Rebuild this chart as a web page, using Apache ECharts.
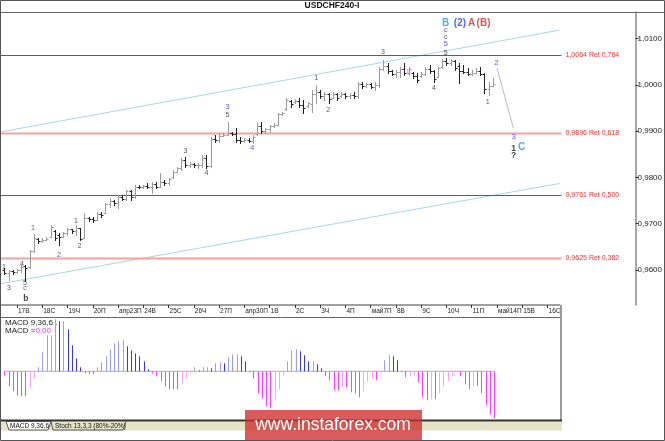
<!DOCTYPE html>
<html><head><meta charset="utf-8">
<script src="https://cdn.jsdelivr.net/npm/echarts@6/dist/echarts.min.js"></script>
<style>html,body{margin:0;padding:0;background:#fff}#c{width:665px;height:441px}</style>
</head><body><div id="c"></div>
<script>
// ---------------- data ----------------
const firstBarIndex = -3;   // bar index of first visible H4 bar (0 = first bar of "17В")
const barsPerDay = 6;
const dayLabels = ['17В','18С','19Ч','20П','апр23П','24В','25С','26Ч','27П','апр30П','1В','2С','3Ч','4П','май7П','8В','9С','10Ч','11П','май14П','15В','16С'];
const opens = [
 0.9600,0.9593,0.9597,0.9595,0.9599,0.9609,0.9606,0.9641,0.9668,0.9662,0.9665,0.9672,0.9685,
 0.9676,0.9672,0.9680,0.9688,0.9684,0.9690,0.9670,0.9712,0.9710,0.9708,
 0.9722,0.9724,0.9742,0.9750,0.9745,0.9757,0.9754,0.9770,0.9758,0.9780,
 0.9779,0.9781,0.9780,0.9786,0.9780,0.9790,0.9788,0.9800,0.9812,0.9820,
 0.9838,0.9826,0.9828,0.9826,0.9827,0.9842,0.9824,0.9882,0.9880,0.9890,
 0.9892,0.9896,0.9894,0.9880,0.9878,0.9880,0.9878,0.9893,0.9912,0.9900,
 0.9904,0.9910,0.9914,0.9936,0.9947,0.9966,0.9962,0.9966,0.9956,0.9954,
 0.9958,0.9980,0.9985,0.9975,0.9980,0.9972,0.9980,0.9975,0.9980,0.9975,
 0.9978,0.9976,1.0002,0.9998,1.0001,0.9996,1.0000,1.0034,1.0040,1.0030,
 1.0024,1.0028,1.0034,1.0026,1.0026,1.0018,1.0018,1.0024,1.0034,1.0030,
 1.0017,1.0038,1.0052,1.0048,1.0052,1.0040,1.0030,1.0028,1.0024,1.0026,
 1.0030,1.0024,0.9990,0.9998];
const highs = [
 0.9604,0.9600,0.9600,0.9602,0.9611,0.9611,0.9643,0.9677,0.9669,0.9669,0.9671,0.9697,0.9686,
 0.9680,0.9682,0.9691,0.9689,0.9697,0.9691,0.9723,0.9714,0.9714,0.9725,
 0.9725,0.9745,0.9755,0.9751,0.9762,0.9762,0.9773,0.9773,0.9784,0.9784,
 0.9784,0.9788,0.9790,0.9790,0.9810,0.9794,0.9799,0.9816,0.9823,0.9842,
 0.9844,0.9833,0.9831,0.9831,0.9848,0.9848,0.9887,0.9892,0.9896,0.9896,
 0.9920,0.9898,0.9907,0.9887,0.9885,0.9885,0.9892,0.9917,0.9920,0.9907,
 0.9913,0.9917,0.9939,0.9941,0.9972,0.9967,0.9970,0.9972,0.9967,0.9963,
 0.9989,1.0000,0.9989,0.9984,0.9982,0.9984,0.9982,0.9984,0.9982,0.9982,
 0.9984,1.0006,1.0006,1.0004,1.0004,1.0006,1.0038,1.0054,1.0047,1.0032,
 1.0032,1.0038,1.0047,1.0038,1.0028,1.0026,1.0028,1.0038,1.0043,1.0032,
 1.0038,1.0056,1.0058,1.0056,1.0054,1.0047,1.0043,1.0036,1.0032,1.0036,
 1.0038,1.0026,1.0006,1.0015];
const lows = [
 0.9591,0.9578,0.9591,0.9594,0.9596,0.9576,0.9605,0.9639,0.9658,0.9661,0.9664,0.9671,0.9665,
 0.9654,0.9671,0.9676,0.9680,0.9676,0.9665,0.9669,0.9706,0.9704,0.9707,
 0.9714,0.9723,0.9736,0.9740,0.9734,0.9751,0.9751,0.9751,0.9756,0.9777,
 0.9777,0.9777,0.9766,0.9777,0.9779,0.9784,0.9784,0.9799,0.9811,0.9816,
 0.9823,0.9823,0.9823,0.9820,0.9823,0.9820,0.9823,0.9876,0.9876,0.9889,
 0.9891,0.9892,0.9876,0.9874,0.9876,0.9876,0.9874,0.9892,0.9896,0.9896,
 0.9898,0.9909,0.9913,0.9935,0.9946,0.9952,0.9961,0.9952,0.9939,0.9952,
 0.9941,0.9961,0.9972,0.9967,0.9961,0.9971,0.9967,0.9974,0.9972,0.9972,
 0.9972,0.9972,0.9993,0.9995,0.9993,0.9989,0.9995,1.0032,1.0026,1.0021,
 1.0017,1.0017,1.0021,1.0021,1.0015,1.0006,1.0017,1.0021,1.0026,1.0006,
 1.0016,1.0037,1.0043,1.0043,1.0032,1.0004,1.0026,1.0021,1.0021,1.0025,
 1.0021,0.9982,0.9978,0.9997];
const closes = [
 0.9594,0.9597,0.9595,0.9599,0.9606,0.9605,0.9641,0.9670,0.9662,0.9665,0.9667,0.9692,0.9670,
 0.9672,0.9680,0.9688,0.9684,0.9690,0.9668,0.9712,0.9710,0.9708,0.9722,
 0.9718,0.9742,0.9750,0.9744,0.9757,0.9754,0.9770,0.9758,0.9780,0.9779,
 0.9781,0.9780,0.9786,0.9780,0.9790,0.9788,0.9796,0.9812,0.9820,0.9838,
 0.9826,0.9828,0.9826,0.9827,0.9842,0.9824,0.9882,0.9880,0.9890,0.9892,
 0.9896,0.9894,0.9880,0.9878,0.9880,0.9878,0.9888,0.9912,0.9900,0.9904,
 0.9910,0.9914,0.9936,0.9938,0.9968,0.9958,0.9966,0.9956,0.9950,0.9960,
 0.9980,0.9985,0.9975,0.9980,0.9970,0.9980,0.9972,0.9980,0.9975,0.9978,
 0.9976,1.0002,0.9998,1.0001,0.9996,1.0000,1.0034,1.0040,1.0030,1.0024,
 1.0028,1.0034,1.0026,1.0034,1.0018,1.0010,1.0024,1.0034,1.0030,1.0012,
 1.0036,1.0052,1.0048,1.0052,1.0036,1.0030,1.0028,1.0024,1.0026,1.0030,
 1.0024,0.9990,0.9998,1.0002];
const macdValues = [
 -0.00020,-0.00075,-0.00100,-0.00120,-0.00125,-0.00125,-0.00085,-0.00035,0.00020,0.00095,0.00180,0.00180,0.00260,
 0.00250,0.00250,0.00210,0.00130,0.00065,0.00020,-0.00010,-0.00015,-0.00015,0.00020,
 0.00045,0.00075,0.00110,0.00140,0.00150,0.00155,0.00125,0.00105,0.00090,0.00075,
 0.00050,0.00010,-0.00010,-0.00025,-0.00050,-0.00075,-0.00090,-0.00090,-0.00090,-0.00065,
 -0.00035,-0.00010,0.00020,0.00005,0.00020,0.00020,0.00015,0.00040,0.00045,0.00040,
 0.00070,0.00085,0.00085,0.00075,0.00050,-0.00005,-0.00035,-0.00110,-0.00135,-0.00175,
 -0.00185,-0.00145,-0.00090,-0.00020,0.00050,0.00105,0.00110,0.00100,0.00080,0.00050,
 0.00050,0.00035,0.00015,-0.00025,-0.00045,-0.00095,-0.00095,-0.00080,-0.00080,-0.00105,
 -0.00110,-0.00130,-0.00100,-0.00050,-0.00035,-0.00045,-0.00010,0.00055,0.00080,0.00075,
 0.00055,-0.00005,-0.00030,-0.00025,-0.00020,-0.00055,-0.00130,-0.00145,-0.00140,-0.00140,
 -0.00110,-0.00075,-0.00050,-0.00020,-0.00005,-0.00025,-0.00065,-0.00090,-0.00075,-0.00075,
 -0.00110,-0.00170,-0.00215,-0.00235];
const priceTicks = [0.96, 0.97, 0.98, 0.99, 1.00, 1.01];
const fibLevels = [1.0064, 0.9896, 0.9761, 0.9625];
const fibRatios = ['0,764', '0,618', '0,500', '0,382'];
const currentPrice = 1.0002;
const upperChannel = [[-4.03, 0.9898], [128.85, 1.0118]];
const lowerChannel = [[-4.03, 0.9570], [128.85, 0.9787]];
const projection = [[114.0, 1.0036], [117.9, 0.9906]];
const waveText  = ['1','3','4','5','c','b','1','2','1','2','3','4','3','5','4','1','2','3','1','4','5','5','c','c','B','(2)','A','(B)','2','1','3','1','C','?'];
const waveIdx   = [-3.1,-1.9,1.2,1.9,1.9,2.1,3.8,9.95,14.0,14.9,40.0,45.0,50.0,50.0,55.9,71.1,73.9,86.9,92.8,99.0,101.8,101.8,101.8,101.8,101.8,105.2,108.0,110.8,113.9,111.8,117.95,117.95,119.85,117.95];
const wavePrice = [0.9607,0.9561,0.9613,0.9572,0.9561,0.9539,0.9691,0.9632,0.9706,0.9652,0.9857,0.9809,0.9952,0.9935,0.9864,1.0015,0.9946,1.0071,1.0028,0.9993,1.0068,1.0088,1.0103,1.0118,1.0132,1.0132,1.0132,1.0132,1.0047,0.9963,0.9887,0.9863,0.9866,0.9846];
const waveKind  = ['k','k','k','k','b','kb','b','b','k','k','k','k','b','k','b','k','k','k','m','k','k','b','k','b','lb','bb','r','r','b','b','b','kb','lb','kb'];

// ---------------- chart ----------------
const FONT = 'Liberation Sans, Arial, sans-serif';
const xMin = -4.0265, xMax = 128.85;
const yMin = 0.95244, yMax = 1.01572;
const lastIndex = firstBarIndex + opens.length - 1;
const fmtPrice = v => v.toFixed(4).replace('.', ',');
const ohlc = opens.map((o, k) => [firstBarIndex + k, o, highs[k], lows[k], closes[k]]);
const macdData = macdValues.map((v, k) => [firstBarIndex + k, v, k > 0 ? macdValues[k - 1] : v]);
const dayTickValues = dayLabels.map((_, k) => k * barsPerDay);
const kindStyle = {
  k:  {color:'#2a2a2a', fontSize:7},
  kb: {color:'#111111', fontSize:8.5, fontWeight:'bold'},
  b:  {color:'#3333ff', fontSize:8},
  bb: {color:'#2a3cff', fontSize:10, fontWeight:'bold'},
  lb: {color:'#1f9ee0', fontSize:10, fontWeight:'bold'},
  r:  {color:'#d42a2a', fontSize:10, fontWeight:'bold'},
  m:  {color:'#ff40ff', fontSize:8}
};
const waveData = waveText.map((t, k) => ({
  value: [waveIdx[k], wavePrice[k]], name: t,
  label: Object.assign({show:true, position:'inside', formatter:t, fontFamily:FONT}, kindStyle[waveKind[k]])
}));

function ohlcItem(params, api) {
  const x = api.value(0), o = api.value(1), h = api.value(2), l = api.value(3), c = api.value(4);
  const pH = api.coord([x, h]), pL = api.coord([x, l]), pO = api.coord([x, o]), pC = api.coord([x, c]);
  const cx = Math.round(pH[0]) + 0.5;
  const yo = Math.round(pO[1]) + 0.5, yc = Math.round(pC[1]) + 0.5;
  const color = c >= o ? '#9c9c9c' : '#222222';
  const st = {stroke: color, lineWidth: 1};
  return {type:'group', children:[
    {type:'line', shape:{x1:cx, y1:Math.round(pH[1]), x2:cx, y2:Math.round(pL[1]) + 1}, style:st},
    {type:'line', shape:{x1:cx - 2, y1:yo, x2:cx, y2:yo}, style:st},
    {type:'line', shape:{x1:cx, y1:yc, x2:cx + 2, y2:yc}, style:st}
  ]};
}
function macdItem(params, api) {
  const i = api.value(0), v = api.value(1), prev = api.value(2);
  const p0 = api.coord([i, 0]), p1 = api.coord([i, v]);
  const x = Math.round(p0[0]) + 0.5;
  let color;
  if (v >= 0) color = v >= prev ? '#9c9cff' : '#3434ff';
  else color = v <= prev ? '#ff3cff' : '#ffa3ff';
  return {type:'line', shape:{x1:x, y1:p0[1], x2:x, y2:p1[1]}, style:{stroke:color, lineWidth:1}};
}
// horizontal Fibonacci level drawn as a custom mark so its stroke colour is explicit
function fibItem(params, api) {
  const lv = api.value(1), k = params.dataIndex;
  const pA = api.coord([xMin, lv]), pB = api.coord([xMax, lv]);
  const y = Math.round(pA[1]) + 0.5;
  const thick = k % 2 === 1;
  return {type:'group', children:[
    {type:'line', shape:{x1:pA[0], y1:y, x2:pB[0] + 2, y2:y},
     style:{stroke: thick ? '#f6a0a0' : '#ff1a1a', lineWidth: thick ? 2 : 1}},
    {type:'text', x:pB[0] + 6, y:y, style:{text: fmtPrice(lv) + ' Ret ' + fibRatios[k], fill:'#ff3030',
      fontSize:7, fontFamily:FONT, verticalAlign:'middle', align:'left'}}
  ]};
}

const chart = echarts.init(document.getElementById('c'));
chart.setOption({
  animation: false,
  backgroundColor: '#ffffff',
  textStyle: {fontFamily: FONT},
  grid: [
    {left:0, top:12, width:561, height:293},
    {left:0, top:318, width:561, height:102}
  ],
  xAxis: [
    {type:'value', gridIndex:0, min:xMin, max:xMax, splitLine:{show:false},
     axisLine:{show:true, onZero:false, lineStyle:{color:'#a0a0a0', width:2}},
     axisTick:{show:true, length:3, customValues:dayTickValues, lineStyle:{color:'#333'}},
     axisLabel:{show:true, customValues:dayTickValues, align:'left', margin:3, padding:[0,0,0,1],
       fontSize:6.5, color:'#222', fontFamily:FONT,
       formatter: v => dayLabels[Math.round(v / barsPerDay)] || ''}},
    {type:'value', gridIndex:1, min:xMin, max:xMax, show:false}
  ],
  yAxis: [
    {type:'value', gridIndex:0, position:'right', offset:76, min:yMin, max:yMax, splitLine:{show:false},
     axisLine:{show:true, onZero:false, lineStyle:{color:'#8a8a8a', width:1.5}},
     axisTick:{show:true, length:3, customValues:priceTicks, lineStyle:{color:'#333'}},
     axisLabel:{show:true, customValues:priceTicks, margin:2, fontSize:8, color:'#222', fontFamily:FONT,
       formatter: v => fmtPrice(v)}},
    {type:'value', gridIndex:1, min:-0.002435, max:0.002665, show:false}
  ],
  series: [
    {type:'line', xAxisIndex:0, yAxisIndex:0, data:upperChannel, symbol:'none', silent:true,
     lineStyle:{color:'#a9d6e2', width:1}, z:1},
    {type:'line', xAxisIndex:0, yAxisIndex:0, data:lowerChannel, symbol:'none', silent:true,
     lineStyle:{color:'#a9d6e2', width:1}, z:1},
    {type:'custom', xAxisIndex:0, yAxisIndex:0, data:fibLevels.map(lv => [xMin, lv]), renderItem:fibItem,
     encode:{x:0, y:1}, z:2, silent:true, clip:false},
    {type:'line', xAxisIndex:0, yAxisIndex:0, data:projection, symbol:'none', silent:true,
     lineStyle:{color:'#bcbcbc', width:1}, z:1,
     markLine:{silent:true, symbol:['none','none'], animation:false, precision:4,
       lineStyle:{opacity:0},
       label:{position:'end', distance:77, color:'#000', fontSize:8, fontFamily:FONT,
         backgroundColor:'#ffff00', padding:[2,2,1,2], formatter: fmtPrice(currentPrice)},
       data:[{yAxis: currentPrice}]}},
    {type:'custom', xAxisIndex:0, yAxisIndex:0, data:ohlc, renderItem:ohlcItem,
     encode:{x:0, y:[1,2,3,4]}, z:3, silent:true},
    {type:'scatter', xAxisIndex:0, yAxisIndex:0, data:waveData, symbolSize:0, z:5, silent:true},
    {type:'line', xAxisIndex:1, yAxisIndex:1, data:[[firstBarIndex, 0], [lastIndex, 0]], symbol:'none',
     silent:true, lineStyle:{color:'#b0b0b0', width:1}, z:1},
    {type:'custom', xAxisIndex:1, yAxisIndex:1, data:macdData, renderItem:macdItem,
     encode:{x:0, y:1}, z:3, silent:true}
  ],
  graphic: [
    {type:'line', shape:{x1:0, y1:12.5, x2:665, y2:12.5}, style:{stroke:'#666', lineWidth:1}, z:50},
    {type:'text', x:332, y:6, style:{text:'USDCHF240-I', fontSize:8.5, fontWeight:'bold', fill:'#111',
      fontFamily:FONT, align:'center', verticalAlign:'middle'}, z:50},
    {type:'line', shape:{x1:0, y1:317.5, x2:561, y2:317.5}, style:{stroke:'#666', lineWidth:1}, z:50},
    {type:'line', shape:{x1:561, y1:305, x2:561, y2:421}, style:{stroke:'#9a9a9a', lineWidth:2}, z:50},
    {type:'line', shape:{x1:0, y1:420.5, x2:562, y2:420.5}, style:{stroke:'#333', lineWidth:2}, z:50},
    {type:'rect', shape:{x:1, y:421.5, width:561, height:9}, style:{fill:'#e6e4c8'}, z:49},
    {type:'polygon', shape:{points:[[6,421.5],[51,421.5],[48,430],[9,430]]}, style:{fill:'#ffffff', stroke:'#555', lineWidth:1}, z:51},
    {type:'text', x:10, y:426, style:{text:'MACD 9,36,6', fontSize:6.5, fill:'#111', fontFamily:FONT, verticalAlign:'middle'}, z:52},
    {type:'polyline', shape:{points:[[51,421.5],[53,430],[123,430],[126,421.5]]}, style:{fill:null, stroke:'#555', lineWidth:1}, z:51},
    {type:'text', x:55, y:426, style:{text:'Stoch 13,3,3 (80%-20%)', fontSize:6.5, fill:'#111', fontFamily:FONT, verticalAlign:'middle'}, z:52},
    {type:'text', x:5, y:323, style:{text:'MACD 9,36,6 .', fontSize:8, fill:'#222', fontFamily:FONT, verticalAlign:'middle'}, z:52},
    {type:'text', x:5, y:331, style:{text:'{a|MACD =}{b|0,00}', fontSize:8, fontFamily:FONT, verticalAlign:'middle',
      rich:{a:{fill:'#222', fontSize:8, fontFamily:FONT}, b:{fill:'#ff33ff', fontSize:8, fontFamily:FONT}}}, z:52},
    {type:'rect', shape:{x:245, y:410, width:177, height:30}, style:{fill:'rgba(208,45,45,0.78)'}, z:90},
    {type:'text', x:333, y:425, style:{text:'www.instaforex.com', fontSize:17.5, fill:'#ffffff', fontFamily:FONT,
      align:'center', verticalAlign:'middle'}, z:91},
    {type:'rect', shape:{x:0.5, y:0.5, width:664, height:440}, style:{fill:null, stroke:'#555', lineWidth:1}, z:95}
  ]
});
</script></body></html>
